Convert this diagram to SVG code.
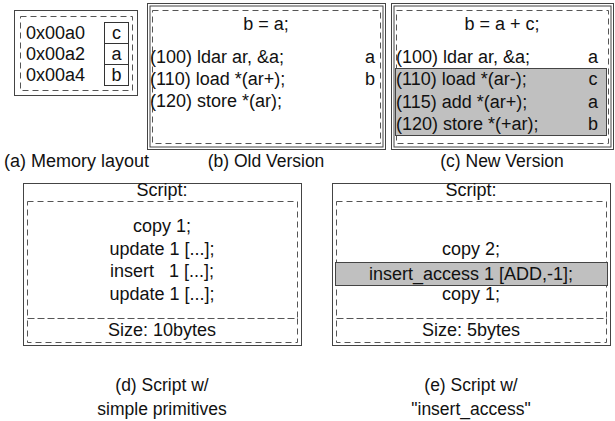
<svg xmlns="http://www.w3.org/2000/svg" width="615" height="421" viewBox="0 0 615 421">
  <style>
    text { font-family: "Liberation Sans", Arial, sans-serif; font-size: 18px; fill: #111; }
    .c { text-anchor: middle; }
    .cap { font-size: 17.5px; }
    .frame { fill: none; stroke: #444; stroke-width: 1; }
    .dash { fill: none; stroke: #555; stroke-width: 1; stroke-dasharray: 6 4; }
    .cell { fill: #fff; stroke: #333; stroke-width: 1; }
    .hl { fill: #c0c0c0; stroke: #444; stroke-width: 1; }
  </style>
  <rect width="615" height="421" fill="#fff"/>

  <!-- (a) memory layout -->
  <g id="memory">
    <rect class="frame" x="14.5" y="10.5" width="123" height="85"/>
    <rect class="dash" x="20.5" y="16.5" width="112" height="74"/>
    <rect class="cell" x="104.5" y="22.5" width="24" height="21"/>
    <rect class="cell" x="104.5" y="43.5" width="24" height="21"/>
    <rect class="cell" x="104.5" y="64.5" width="24" height="21"/>
    <text x="26" y="39">0x00a0</text>
    <text x="26" y="60">0x00a2</text>
    <text x="26" y="81">0x00a4</text>
    <text class="c" x="116.5" y="39">c</text>
    <text class="c" x="116.5" y="60">a</text>
    <text class="c" x="116.5" y="81">b</text>
  </g>

  <!-- (b) old version -->
  <g id="old">
    <rect class="frame" x="147.5" y="3.5" width="238" height="146"/>
    <rect class="frame" x="150" y="6" width="233" height="141"/>
    <rect class="dash" x="152.5" y="10.5" width="228" height="133"/>
    <text class="c" x="266" y="30">b = a;</text>
    <text x="150" y="63">(100) ldar ar, &amp;a;</text>
    <text x="150" y="85">(110) load *(ar+);</text>
    <text x="150" y="107">(120) store *(ar);</text>
    <text class="c" x="370" y="63">a</text>
    <text class="c" x="370" y="85">b</text>
  </g>

  <!-- (c) new version -->
  <g id="new">
    <rect class="frame" x="391.5" y="3.5" width="222" height="146"/>
    <rect class="frame" x="394" y="6" width="217" height="141"/>
    <rect class="dash" x="396.5" y="10.5" width="212" height="133"/>
    <rect class="hl" x="395.5" y="68.5" width="211" height="67"/>
    <text class="c" x="502" y="30">b = a + c;</text>
    <text x="396" y="63">(100) ldar ar, &amp;a;</text>
    <text x="396" y="85">(110) load *(ar-);</text>
    <text x="396" y="108">(115) add *(ar+);</text>
    <text x="396" y="130">(120) store *(+ar);</text>
    <text class="c" x="593" y="63">a</text>
    <text class="c" x="593" y="85">c</text>
    <text class="c" x="593" y="108">a</text>
    <text class="c" x="593" y="130">b</text>
  </g>

  <!-- (d) script with simple primitives -->
  <g id="script-simple">
    <rect class="frame" x="23.5" y="183.5" width="278" height="162" stroke-width="1.5"/>
    <text class="c" x="162" y="196">Script:</text>
    <rect class="dash" x="27.5" y="201.5" width="270" height="117"/>
    <rect class="dash" x="27.5" y="318.5" width="270" height="24"/>
    <text class="c" x="162" y="232">copy 1;</text>
    <text class="c" x="162" y="255">update 1 [...];</text>
    <text class="c" x="162" y="277" xml:space="preserve">insert   1 [...];</text>
    <text class="c" x="162" y="300">update 1 [...];</text>
    <text class="c" x="162" y="336">Size: 10bytes</text>
  </g>

  <!-- (e) script with insert_access -->
  <g id="script-access">
    <rect class="frame" x="332.5" y="183.5" width="278" height="162"/>
    <text class="c" x="471" y="196">Script:</text>
    <rect class="dash" x="336.5" y="201.5" width="270" height="117"/>
    <rect class="dash" x="336.5" y="318.5" width="270" height="24"/>
    <text class="c" x="471" y="255">copy 2;</text>
    <rect class="hl" x="335.5" y="262.5" width="272" height="23"/>
    <text class="c" x="471" y="280">insert_access 1 [ADD,-1];</text>
    <text class="c" x="471" y="300">copy 1;</text>
    <text class="c" x="471" y="336">Size: 5bytes</text>
  </g>

  <!-- captions -->
  <g id="captions">
    <text x="4" y="167" font-size="16">(a) Memory layout</text>
    <text class="c cap" x="266" y="167">(b) Old Version</text>
    <text class="c cap" x="502" y="167">(c) New Version</text>
    <text class="c cap" x="162" y="391">(d) Script w/</text>
    <text class="c cap" x="162" y="415">simple primitives</text>
    <text class="c cap" x="471" y="391">(e) Script w/</text>
    <text class="c cap" x="471" y="415">"insert_access"</text>
  </g>

  <g id="connectors"/>
</svg>
